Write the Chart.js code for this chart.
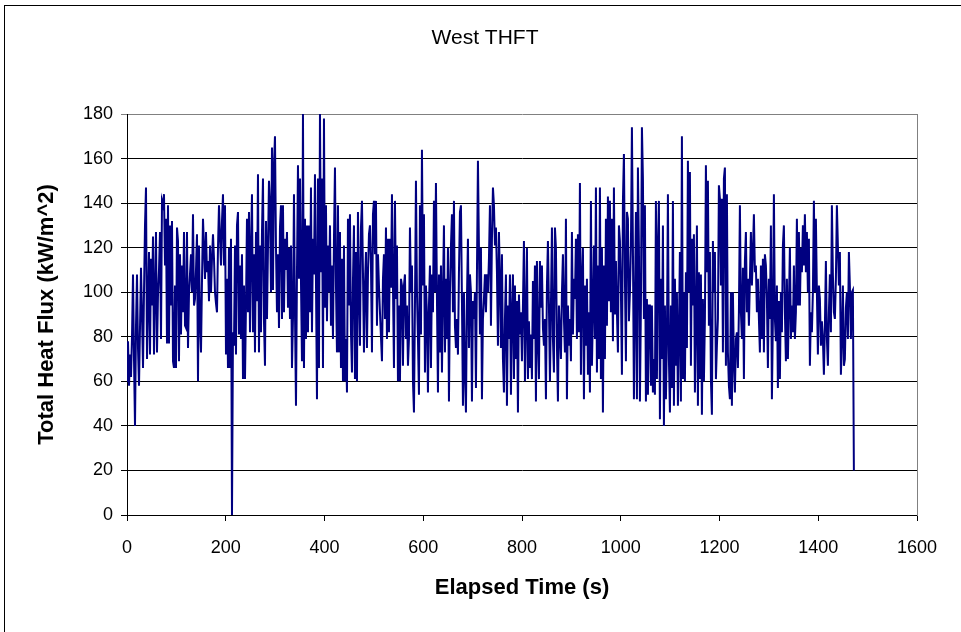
<!DOCTYPE html>
<html><head><meta charset="utf-8">
<script src="https://cdn.jsdelivr.net/npm/chart.js@4/dist/chart.umd.min.js"></script>
<style>
html,body{margin:0;padding:0;background:#fff;}
#wrap{position:relative;width:961px;height:632px;overflow:hidden;background:#fff;}
#frame{position:absolute;left:4px;top:5px;width:1200px;height:1000px;border:1px solid #000;box-sizing:border-box;pointer-events:none;}
canvas{position:absolute;left:0;top:0;}
</style></head><body>
<div id="wrap"><canvas id="c" width="961" height="632"></canvas><div id="frame"></div></div>
<script>
// Sample interval of the logger (s)
const timeStep = 2.025;
// Total heat flux (kW/m^2)
const fluxBlock1 = [60,78,58,72,62,80,108,70,40,85,108,75,58,84,111,90,66,100,130,147,70,95,118,72,115,94,125,72,100,127,73,99,110,127,79,141,139,144,112,133,77,139,77,130,94,132,69,66,103,66,129,123,69,117,81,112,91,127,85,84,127,75,99,108,117,100,135,94,97,110,126,60,121];
const fluxBlock2 = [87,73,105,133,120,106,127,109,114,96,121,100,115,126,115,100,95,91,120,139,125,112,132,144,112,139,72,106,66,120,66,124,0,82,76,121,72,130,136,81,112,79,117,61,103,61,94,133,91,136,82,120,144,82,117,73,127,96,153,73,121,82,127,151,87,67,132,88,120,150,139,100,165,101,157];
const fluxBlock3 = [170,120,91,117,84,129,139,88,139,91,124,110,127,93,120,88,121,66,88,144,91,49,109,157,106,151,105,69,180,66,133,79,130,82,130,91,147,82,124,108,153,105,52,151,66,180,109,151,66,178,93,139,87,121,100,130,85,112,79,124,156,103,73,139,73,127,66,115,60,121,60,79,55,133,94];
const fluxBlock4 = [135,82,64,105,130,61,118,60,136,100,76,129,141,109,73,103,118,75,108,126,130,112,73,135,141,117,141,85,117,103,91,80,69,106,117,88,129,79,124,82,124,102,144,103,66,141,97,121,60,94,60,106,103,67,103,108,79,94,67,79,129,100,112,60,46,94,150,100,79,54,139,81,164,103,135];
const fluxBlock5 = [64,103,90,55,94,112,66,108,91,141,100,149,97,55,108,73,112,64,100,130,73,106,79,120,51,100,121,135,91,141,85,75,88,72,109,136,139,96,49,100,63,46,97,124,75,108,100,51,96,88,100,57,109,159,120,81,120,52,88,97,108,91,108,100,115,139,85,124,147,139,121,129,109,76,127];
const fluxBlock6 = [106,75,117,70,55,88,108,49,94,79,108,54,91,108,61,103,70,96,46,99,81,91,69,94,123,60,88,120,61,87,66,81,61,105,79,112,51,114,79,61,114,93,112,84,76,88,52,103,123,94,60,94,129,79,64,129,120,76,51,94,82,70,100,117,88,73,133,52,94,76,88,69,127,81,106];
const fluxBlock7 = [97,124,79,126,82,149,63,105,120,52,103,76,106,63,91,55,141,67,91,121,79,147,64,112,70,147,61,120,46,112,70,133,85,143,96,141,91,133,78,147,90,114,91,73,130,123,100,63,141,162,106,69,136,133,87,100,121,174,120,52,94,136,52,156,120,51,94,174,151,88,139,51,97,54,94];
const fluxBlock8 = [94,58,94,55,70,54,141,61,121,141,43,106,70,130,40,94,52,79,144,70,46,94,57,141,49,106,67,100,49,82,118,51,170,61,100,60,109,75,159,100,154,67,124,94,126,55,88,130,49,109,61,108,45,97,60,88,157,109,150,85,118,61,45,123,100,118,61,76,88,148,142,103,142,73,151];
const fluxBlock9 = [156,67,144,73,58,52,100,49,100,69,55,79,82,66,91,139,91,79,111,61,114,127,91,106,85,106,127,103,118,135,109,112,91,106,88,73,112,79,115,73,117,112,97,66,106,88,130,52,88,144,88,78,103,57,96,61,100,82,121,130,91,69,106,70,94,120,79,94,82,112,79,91,133,94,127];
const fluxBlock10 = [94,120,109,130,112,135,109,127,100,124,67,91,82,100,141,100,133,100,72,103,97,76,87,79,63,85,114,79,67,91,108,82,139,108,91,88,106,139,121,103,118,63,79,103,67,70,93,100,79,118,103,79,100,101,20];

const flux = [].concat(fluxBlock1, fluxBlock2, fluxBlock3, fluxBlock4, fluxBlock5,
                       fluxBlock6, fluxBlock7, fluxBlock8, fluxBlock9, fluxBlock10);
const elapsed = flux.map((_, i) => i * timeStep);

const chartTitle = 'West THFT';
const xTitle = 'Elapsed Time (s)';
const yTitle = 'Total Heat Flux (kW/m^2)';
const xTicks = [0, 200, 400, 600, 800, 1000, 1200, 1400, 1600];
const yTicks = [0, 20, 40, 60, 80, 100, 120, 140, 160, 180];

const FONT = "'Liberation Sans', Arial, sans-serif";

new Chart(document.getElementById('c').getContext('2d'), {
  type: 'line',
  data: {
    datasets: [{
      data: elapsed.map((t, i) => ({x: t, y: flux[i]})),
      borderColor: '#000080',
      borderWidth: 2,
      pointRadius: 0,
      tension: 0,
      fill: false,
      yAxisID: 'y'
    }]
  },
  options: {
    responsive: false,
    animation: false,
    devicePixelRatio: 1,
    layout: {padding: {left: 20, right: 11, top: 0, bottom: 20}},
    plugins: {
      legend: {display: false},
      tooltip: {enabled: false},
      title: {
        display: true, text: chartTitle, color: '#000',
        font: {family: FONT, size: 21, weight: 'normal'},
        padding: {top: 25.4, bottom: 63.4}
      }
    },
    scales: {
      x: {
        type: 'linear', min: xTicks[0], max: xTicks[xTicks.length - 1],
        afterBuildTicks: s => { s.ticks = xTicks.map(v => ({value: v})); },
        ticks: {color: '#000', font: {family: FONT, size: 18}, padding: 16, maxRotation: 0, autoSkip: false,
                callback: v => String(v)},
        grid: {drawOnChartArea: false, drawTicks: true, tickLength: 6, color: '#000'},
        border: {color: '#000', width: 1},
        title: {display: true, text: xTitle, color: '#000', font: {family: FONT, size: 22, weight: 'bold'}, padding: {top: 0, bottom: 10.8}},
        afterFit: s => { s.height = 97; }
      },
      y: {
        type: 'linear', min: yTicks[0], max: yTicks[yTicks.length - 1],
        afterBuildTicks: s => { s.ticks = yTicks.map(v => ({value: v})); },
        ticks: {color: '#000', font: {family: FONT, size: 18}, padding: 8, callback: v => String(v)},
        grid: {color: c => (c.tick && c.tick.value === 180) ? '#808080' : '#000', tickLength: 6, lineWidth: 1},
        border: {color: '#000', width: 1},
        title: {display: true, text: yTitle, color: '#000', font: {family: FONT, size: 22, weight: 'bold'}, padding: {top: 13.8, bottom: 0}},
        afterFit: s => { s.width = 107; }
      },
      r: {
        type: 'linear', position: 'right', min: 0, max: 180,
        ticks: {display: false},
        grid: {display: false},
        border: {display: true, color: '#808080', width: 1},
        afterFit: s => { s.width = 33; }
      }
    }
  }
});
</script>
</body></html>
